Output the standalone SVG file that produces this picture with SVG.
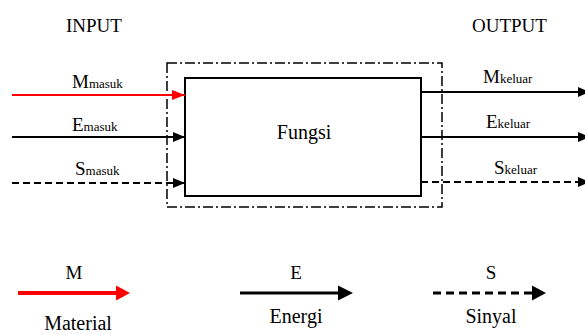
<svg xmlns="http://www.w3.org/2000/svg" width="585" height="335" viewBox="0 0 585 335">
<style>
text{font-family:"Liberation Serif","Times New Roman",serif;fill:#000}
.lbl{font-size:19px}
.big{font-size:20px}
.sub{font-size:13px}
.ln{stroke:#000;stroke-width:2;fill:none}
.red{stroke:#f00;stroke-width:2;fill:none}
.dash{stroke-dasharray:7 4}
.leg{stroke:#000;stroke-width:3;fill:none}
</style>
<defs>
<marker id="ah" markerWidth="12" markerHeight="10" refX="12" refY="5" orient="auto" markerUnits="userSpaceOnUse"><path d="M0,0 L12,5 L0,10 Z" fill="#000"/></marker>
<marker id="ahr" markerWidth="13" markerHeight="10" refX="13" refY="5" orient="auto" markerUnits="userSpaceOnUse"><path d="M0,0 L13,5 L0,10 Z" fill="#f00"/></marker>
</defs>
<text class="lbl" x="66" y="32">INPUT</text>
<text class="lbl" x="472" y="32">OUTPUT</text>
<g id="boundary"><rect x="167" y="63" width="275" height="144" fill="none" stroke="#000" stroke-width="1.5" stroke-dasharray="10 3 2 3"/></g>
<g id="fungsi"><rect x="185" y="78" width="236" height="118" fill="#fff" stroke="#000" stroke-width="2"/>
<text class="big" x="304" y="139" text-anchor="middle">Fungsi</text></g>
<g id="connectors">
<line class="red" x1="12" y1="95" x2="185" y2="95" marker-end="url(#ahr)"/>
<line class="ln" x1="12" y1="137" x2="185" y2="137" marker-end="url(#ah)"/>
<line class="ln dash" x1="12" y1="183" x2="185" y2="183" marker-end="url(#ah)"/>
<line class="ln" x1="421" y1="92" x2="590" y2="92" marker-end="url(#ah)"/>
<line class="ln" x1="421" y1="137" x2="590" y2="137" marker-end="url(#ah)"/>
<line class="ln dash" x1="421" y1="182" x2="590" y2="182" marker-end="url(#ah)"/>
</g>
<g id="labels">
<text class="lbl" x="72" y="88">M<tspan class="sub">masuk</tspan></text>
<text class="lbl" x="72" y="131">E<tspan class="sub">masuk</tspan></text>
<text class="lbl" x="75" y="175">S<tspan class="sub">masuk</tspan></text>
<text class="lbl" x="483" y="83">M<tspan class="sub">keluar</tspan></text>
<text class="lbl" x="486" y="128">E<tspan class="sub">keluar</tspan></text>
<text class="lbl" x="494" y="174">S<tspan class="sub">keluar</tspan></text>
</g>
<g id="legend">
<text class="lbl" x="74" y="279" text-anchor="middle">M</text>
<line x1="18" y1="293" x2="118" y2="293" stroke="#f00" stroke-width="4"/>
<path d="M116,285.5 L130,293 L116,300.5 Z" fill="#f00"/>
<text class="big" x="78" y="330" text-anchor="middle">Material</text>
<text class="lbl" x="296" y="279" text-anchor="middle">E</text>
<line class="leg" x1="240" y1="293" x2="340" y2="293"/>
<path d="M338,285.5 L353,293 L338,300.5 Z" fill="#000"/>
<text class="big" x="296" y="323" text-anchor="middle">Energi</text>
<text class="lbl" x="491" y="279" text-anchor="middle">S</text>
<line class="leg" x1="433" y1="293" x2="533" y2="293" stroke-dasharray="8 5"/>
<path d="M532,285.5 L546,293 L532,300.5 Z" fill="#000"/>
<text class="big" x="491" y="323" text-anchor="middle">Sinyal</text>
</g>
</svg>
